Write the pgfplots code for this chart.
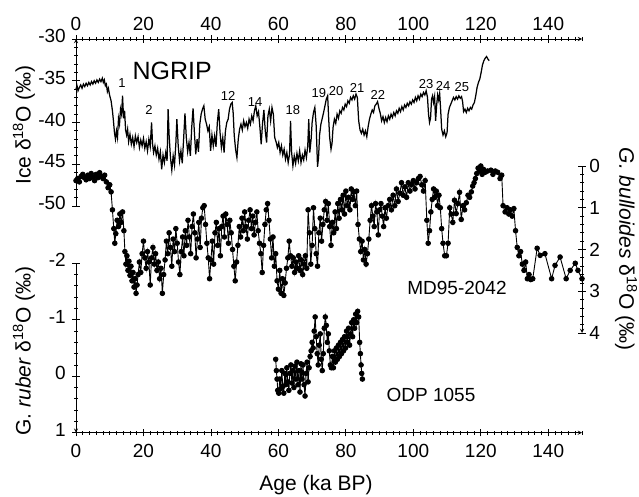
\documentclass[border=0pt]{standalone}
\usepackage{fontspec}
\setmainfont{Liberation Sans}
\usepackage{pgfplots}
\pgfplotsset{compat=1.18}

\pgfplotsset{
  common/.style={
    scale only axis, width=506pt, xmin=0, xmax=150,
    anchor=south west,
    tick align=inside,
    major tick length=7.5pt, minor tick length=4pt,
    every tick/.style={black, line width=0.8pt},
    axis line style={black, line width=0.9pt, -},
    every outer x axis line/.append style={-},
    every outer y axis line/.append style={-},
    /pgf/number format/assume math mode=true,
    tick label style={font=\fontsize{19}{20}\selectfont},
    clip=false,
  }
}

\begin{document}
\begin{tikzpicture}
\useasboundingbox (0,0) rectangle (639pt,496pt);

% ---------------- NGRIP ----------------
\begin{axis}[common,
  at={(76pt,290pt)}, height=167pt,
  ymin=-50, ymax=-30,
  axis x line=top, axis y line=left,
  xtick={0,20,...,140}, minor xtick={2,4,...,150},
  ytick={-50,-45,...,-30}, minor ytick={-49,-48,...,-31},
  xticklabel style={yshift=1.5pt},
  yticklabel style={yshift=3pt, xshift=-3pt},
]
\addplot[black, line width=1.25pt] table {
0 -36.0
0.3 -35.6
0.6 -36.2
1.0 -35.8
1.4 -35.5
1.8 -35.9
2.2 -35.4
2.6 -35.7
3.0 -35.3
3.4 -35.6
3.8 -35.2
4.2 -35.5
4.6 -35.1
5.0 -35.4
5.4 -35.0
5.8 -35.3
6.2 -34.9
6.6 -35.2
7.0 -34.8
7.4 -35.1
7.8 -34.7
8.1 -35.2
8.4 -34.9
8.7 -35.6
9.0 -35.4
9.3 -36.3
9.6 -35.9
10.0 -36.8
10.4 -37.4
10.8 -38.6
11.1 -39.8
11.4 -41.2
11.7 -42.0
12.0 -41.0
12.3 -41.8
12.6 -39.5
12.9 -40.2
13.2 -38.4
13.5 -39.0
13.8 -36.8
14.1 -39.5
14.4 -38.6
14.7 -40.9
15.0 -41.5
15.3 -40.8
15.6 -42.3
16.0 -41.4
16.4 -42.6
16.8 -41.8
17.2 -42.9
17.6 -41.6
18.0 -42.4
18.4 -41.7
18.8 -43.0
19.2 -42.1
19.6 -42.8
20.0 -41.9
20.4 -43.1
20.8 -42.3
21.2 -43.4
21.6 -42.0
22.0 -42.9
22.4 -40.0
22.7 -42.6
23.0 -43.6
23.4 -42.8
23.8 -43.9
24.2 -43.1
24.6 -44.4
25.0 -43.5
25.4 -45.6
25.8 -43.9
26.2 -44.8
26.6 -43.6
27.0 -44.6
27.3 -38.4
27.6 -41.5
28.0 -44.2
28.4 -45.7
28.8 -44.0
29.2 -45.1
29.6 -42.5
29.9 -39.6
30.3 -42.8
30.7 -44.6
31.1 -43.4
31.5 -44.9
31.9 -42.0
32.3 -38.9
32.7 -41.8
33.1 -43.5
33.5 -42.4
33.9 -44.0
34.3 -40.6
34.7 -38.3
35.1 -41.2
35.5 -43.8
35.9 -42.0
36.3 -43.5
36.7 -40.2
37.1 -39.0
37.5 -38.4
37.9 -38.0
38.3 -39.6
38.7 -40.2
39.1 -41.0
39.5 -40.5
39.9 -43.4
40.3 -41.5
40.7 -42.8
41.1 -41.6
41.5 -42.9
41.9 -40.0
42.3 -38.4
42.7 -41.2
43.1 -43.0
43.5 -41.8
43.9 -43.6
44.3 -41.0
44.7 -40.0
45.1 -39.6
45.5 -38.4
45.9 -37.8
46.3 -37.6
46.6 -38.9
46.9 -41.5
47.3 -43.2
47.7 -44.2
48.1 -42.0
48.5 -40.8
48.9 -40.2
49.3 -40.9
49.7 -39.8
50.1 -40.5
50.5 -40.0
50.9 -40.7
51.3 -39.6
51.7 -40.2
52.1 -39.2
52.5 -39.8
52.9 -38.6
53.3 -38.0
53.7 -39.2
54.1 -38.7
54.5 -40.5
54.9 -42.6
55.3 -40.1
55.7 -38.5
56.1 -41.0
56.5 -42.4
56.9 -39.2
57.3 -38.4
57.7 -39.8
58.1 -38.2
58.5 -39.0
58.9 -41.8
59.3 -42.3
59.7 -43.0
60.1 -42.4
60.5 -43.6
60.9 -42.8
61.3 -43.9
61.7 -43.2
62.1 -44.4
62.5 -43.6
62.9 -44.8
63.3 -43.8
63.6 -39.8
63.9 -43.5
64.3 -45.2
64.7 -44.0
65.1 -44.9
65.5 -43.7
65.9 -44.6
66.3 -43.4
66.7 -44.8
67.1 -43.9
67.5 -44.5
67.9 -43.3
68.3 -44.2
68.7 -42.8
69.0 -39.6
69.3 -43.6
69.7 -42.0
70.0 -40.0
70.4 -38.8
70.8 -38.2
71.2 -40.4
71.6 -45.3
71.9 -44.2
72.2 -41.5
72.6 -40.2
73.0 -39.5
73.4 -38.8
73.8 -38.0
74.2 -37.2
74.6 -36.8
74.9 -39.5
75.2 -41.8
75.6 -43.2
75.9 -42.5
76.2 -40.6
76.6 -39.6
77.0 -40.1
77.4 -39.0
77.8 -39.5
78.2 -38.6
78.6 -38.9
79.0 -38.2
79.4 -38.5
79.8 -37.8
80.2 -38.1
80.6 -37.4
81.0 -37.7
81.4 -37.0
81.8 -37.3
82.2 -36.8
82.6 -37.2
83.0 -36.6
83.4 -37.0
83.8 -39.8
84.2 -40.9
84.6 -41.3
85.0 -40.8
85.4 -41.5
85.8 -41.0
86.2 -41.7
86.6 -40.5
87.0 -39.6
87.4 -39.0
87.8 -38.5
88.2 -38.8
88.6 -38.0
89.0 -37.8
89.4 -37.5
89.8 -38.3
90.2 -38.9
90.6 -39.8
91.0 -39.3
91.4 -40.0
91.8 -39.4
92.2 -39.9
92.6 -39.2
93.0 -39.6
93.4 -39.0
93.8 -39.4
94.2 -38.8
94.6 -39.2
95.0 -38.6
95.4 -38.9
95.8 -38.3
96.2 -38.7
96.6 -38.1
97.0 -38.5
97.4 -37.9
97.8 -38.2
98.2 -37.7
98.6 -38.0
99.0 -37.5
99.4 -37.8
99.8 -37.3
100.2 -37.6
100.6 -37.0
101.0 -37.4
101.4 -36.8
101.8 -37.2
102.2 -36.6
102.6 -36.9
103.0 -36.4
103.4 -36.7
103.8 -36.2
104.2 -37.0
104.5 -39.0
104.8 -40.0
105.1 -39.5
105.4 -37.2
105.7 -36.8
106.0 -37.6
106.3 -36.9
106.6 -39.8
106.9 -38.0
107.2 -36.7
107.5 -37.3
107.8 -36.5
108.1 -38.5
108.4 -40.8
108.8 -41.5
109.2 -41.0
109.6 -41.7
110.0 -41.2
110.3 -39.0
110.7 -38.2
111.1 -37.8
111.5 -37.4
111.9 -37.0
112.3 -37.3
112.7 -36.9
113.1 -37.2
113.5 -36.8
113.9 -37.1
114.3 -36.9
114.6 -37.5
114.9 -38.7
115.3 -38.4
115.7 -38.8
116.1 -38.3
116.5 -38.6
116.9 -38.2
117.3 -38.4
117.7 -37.9
118.1 -37.6
118.5 -36.8
118.9 -35.8
119.3 -35.2
119.7 -34.8
120.1 -34.0
120.5 -33.1
120.9 -32.6
121.3 -32.3
121.7 -32.1
122.1 -32.4
122.5 -32.6
};
\begin{scope}[font=\fontsize{13}{13}\selectfont]
\node at (axis cs:13.6,-35.3) {1};
\node at (axis cs:21.6,-38.5) {2};
\node at (axis cs:45.1,-36.8) {12};
\node at (axis cs:53.1,-37.5) {14};
\node at (axis cs:64.3,-38.5) {18};
\node at (axis cs:72.0,-36.5) {19};
\node at (axis cs:77.1,-36.2) {20};
\node at (axis cs:83.3,-35.9) {21};
\node at (axis cs:89.5,-36.7) {22};
\node at (axis cs:103.8,-35.4) {23};
\node at (axis cs:108.8,-35.6) {24};
\node at (axis cs:114.4,-35.7) {25};
\end{scope}
\node[font=\fontsize{25}{25}\selectfont] at (axis cs:28.5,-33.8) {NGRIP};
\end{axis}

% ---------------- MD95-2042 ----------------
\begin{axis}[common,
  at={(76pt,163pt)}, height=167pt,
  ymin=0, ymax=4, y dir=reverse,
  axis x line=none, axis y line=right,
  ytick={0,1,2,3,4}, minor ytick={0.2,0.4,...,3.9},
]
\addplot[black, line width=0.9pt, mark=*, mark size=2.3pt] table {
0.0 0.35
0.5 0.30
1.0 0.38
1.5 0.25
2.0 0.20
2.5 0.28
3.0 0.33
3.5 0.22
4.0 0.30
4.5 0.18
5.0 0.26
5.5 0.35
6.0 0.20
6.5 0.28
7.0 0.16
7.5 0.25
8.0 0.30
8.5 0.22
9.0 0.38
9.5 0.52
10.0 0.45
10.4 0.62
10.8 1.05
11.2 1.50
11.5 1.85
11.8 1.62
12.2 1.30
12.6 1.45
13.0 1.15
13.4 1.35
13.8 1.10
14.2 1.55
14.5 2.05
14.8 2.35
15.1 2.15
15.4 2.50
15.7 2.28
16.0 2.62
16.3 2.40
16.6 2.75
16.9 2.55
17.2 2.90
17.5 2.70
17.8 3.05
18.1 2.85
18.4 2.60
18.8 2.30
19.2 2.55
19.6 2.10
20.0 1.80
20.4 2.20
20.8 2.45
21.2 2.05
21.6 2.30
22.0 2.85
22.4 2.20
22.8 1.95
23.2 2.35
23.6 2.10
24.0 2.50
24.4 2.30
24.8 2.70
25.2 2.45
25.6 3.05
26.0 2.60
26.4 2.25
26.8 1.80
27.2 2.10
27.6 1.60
28.0 1.95
28.4 2.40
28.8 1.75
29.2 2.05
29.6 1.50
30.0 1.85
30.4 2.30
30.8 2.60
31.2 2.05
31.6 1.70
32.0 2.15
32.4 1.55
32.8 1.90
33.2 1.30
33.6 1.70
34.0 2.10
34.4 1.45
34.8 1.15
35.2 1.60
35.6 2.20
36.0 1.75
36.4 1.35
36.8 1.95
37.2 1.25
37.6 1.00
38.0 0.95
38.4 1.40
38.8 1.85
39.2 2.20
39.6 2.70
40.0 2.25
40.4 1.80
40.8 2.35
41.2 1.60
41.6 1.35
42.0 1.90
42.4 1.50
42.8 2.15
43.2 1.45
43.6 1.20
44.0 1.70
44.4 1.15
44.8 1.40
45.2 1.85
45.6 1.30
46.0 1.60
46.4 2.00
46.8 2.40
47.2 2.75
47.6 2.30
48.0 1.90
48.4 1.45
48.8 1.70
49.2 1.25
49.6 1.55
50.0 1.10
50.4 1.45
50.8 1.75
51.2 1.30
51.6 1.05
52.0 1.50
52.4 1.20
52.8 1.65
53.2 1.35
53.6 1.10
54.0 1.55
54.4 1.85
54.8 2.10
55.2 2.55
55.6 1.90
56.0 1.40
56.4 1.05
56.8 0.90
57.2 1.30
57.6 1.75
58.0 2.20
58.4 1.70
58.8 2.40
59.2 2.10
59.6 2.75
60.0 2.95
60.4 2.50
60.8 3.05
61.2 2.70
61.6 3.10
62.0 2.80
62.4 2.45
62.8 2.20
63.2 1.80
63.6 2.15
64.0 2.40
64.4 2.20
64.8 2.55
65.2 2.30
65.6 2.45
66.0 2.15
66.4 2.50
66.8 2.25
67.2 2.60
67.6 2.35
68.0 2.15
68.4 2.45
68.8 1.05
69.2 1.60
69.6 2.35
70.0 1.90
70.4 1.00
70.8 1.50
71.2 2.10
71.6 2.40
72.0 1.60
72.4 1.25
72.8 1.80
73.2 1.40
73.6 1.05
74.0 0.85
74.4 1.30
74.8 0.90
75.2 1.45
75.6 1.90
76.0 1.35
76.4 1.60
76.8 1.10
77.2 1.50
77.6 0.90
78.0 1.25
78.4 0.80
78.8 1.05
79.2 0.70
79.6 1.15
80.0 0.60
80.4 0.95
80.8 0.75
81.2 1.05
81.6 0.55
82.0 0.80
82.4 0.62
82.8 0.95
83.2 0.60
83.6 1.40
84.0 1.75
84.4 2.05
84.8 1.80
85.2 2.25
85.6 2.00
86.0 2.35
86.4 2.10
86.8 1.75
87.2 1.30
87.6 0.95
88.0 1.20
88.4 1.45
88.8 0.90
89.2 1.10
89.6 1.65
90.0 1.05
90.4 0.90
90.8 1.20
91.2 1.45
91.6 1.00
92.0 1.25
92.5 0.95
93.0 0.80
93.5 1.05
94.0 0.70
94.5 0.95
95.0 0.55
95.5 0.85
96.0 0.65
96.5 0.40
97.0 0.70
97.5 0.50
98.0 0.75
98.5 0.40
99.0 0.60
99.5 0.45
100.0 0.35
100.5 0.55
101.0 0.40
101.5 0.30
102.0 0.25
102.5 0.45
103.0 0.60
103.5 0.35
104.0 1.30
104.4 1.85
104.8 1.55
105.2 1.10
105.6 0.80
106.0 0.55
106.4 0.75
106.8 0.60
107.2 0.95
107.6 0.70
108.0 1.00
108.4 1.50
108.8 1.85
109.3 2.15
109.8 2.15
110.3 1.85
110.8 1.00
111.2 1.15
111.7 1.35
112.2 0.82
112.7 1.14
113.2 0.90
113.7 0.63
114.2 1.28
114.7 0.95
115.2 1.05
115.7 0.88
116.2 0.70
116.7 0.75
117.2 0.62
117.6 0.48
118.0 0.40
118.4 0.30
118.8 0.18
119.2 0.05
119.6 0.12
120.0 0.00
120.4 0.20
120.8 0.08
121.3 0.15
122.0 0.12
123.0 0.10
123.6 0.20
124.3 0.12
125.0 0.15
125.7 0.30
126.2 0.22
126.6 0.95
127.2 1.10
127.8 1.00
128.3 1.15
128.8 1.05
129.3 1.20
129.8 1.02
130.3 1.55
130.8 1.95
131.3 2.15
131.8 2.05
132.3 2.35
132.8 2.50
133.3 2.30
133.8 2.70
134.3 2.60
134.8 2.72
135.4 2.70
136.7 1.97
137.6 2.14
139.0 2.10
141.0 2.70
142.0 2.38
143.5 2.18
145.3 2.70
146.5 2.50
148.0 2.33
148.8 2.50
150.0 2.70
};
\end{axis}

% ---------------- ODP 1055 ----------------
\begin{axis}[common,
  at={(76pt,63.3pt)}, height=169.4pt,
  ymin=-2, ymax=1, y dir=reverse,
  axis x line=bottom, axis y line=left,
  xtick={0,20,...,140}, minor xtick={2,4,...,150},
  ytick={-2,-1,0,1}, minor ytick={-1.8,-1.6,...,0.9},
  xticklabel style={yshift=-4pt},
  yticklabel style={yshift=3pt, xshift=-3pt},
]
\addplot[black, line width=0.9pt, mark=*, mark size=2.3pt] table {
59.2 -0.30
59.4 -0.10
59.6 0.05
59.8 0.25
60.1 0.30
60.4 0.05
60.7 0.22
61.0 -0.10
61.3 0.18
61.6 0.30
61.9 -0.05
62.2 0.15
62.5 -0.15
62.8 0.10
63.1 0.25
63.4 -0.05
63.7 -0.20
64.0 0.12
64.3 -0.10
64.6 0.20
64.9 -0.18
65.2 0.05
65.5 -0.25
65.8 0.15
66.1 -0.10
66.4 0.28
66.7 -0.22
67.0 0.05
67.3 -0.20
67.6 0.15
67.9 0.35
68.2 -0.05
68.5 -0.25
68.8 0.10
69.1 -0.15
69.4 -0.35
69.7 -0.45
70.0 -0.60
70.3 -0.50
70.6 -0.80
70.9 -1.05
71.2 -0.70
71.5 -0.40
71.8 -0.20
72.1 -0.55
72.4 -0.75
72.7 -0.30
73.0 -0.10
73.3 -0.40
73.6 -0.85
73.9 -1.05
74.2 -0.90
74.5 -0.60
74.8 -0.75
75.1 -0.45
75.4 -0.20
75.7 -0.15
76.0 -0.35
76.3 -0.15
76.6 -0.45
76.9 -0.25
77.2 -0.50
77.5 -0.30
77.8 -0.55
78.1 -0.35
78.4 -0.60
78.7 -0.40
79.0 -0.65
79.3 -0.45
79.6 -0.70
79.9 -0.50
80.2 -0.80
80.5 -0.60
80.8 -0.85
81.1 -0.55
81.4 -0.75
81.7 -0.95
82.0 -0.70
82.3 -1.00
82.6 -0.85
82.9 -1.10
83.2 -0.95
83.5 -1.15
83.8 -1.05
84.1 -0.60
84.3 -0.40
84.5 -0.20
84.7 -0.05
84.9 0.05
};
\end{axis}

% ---------------- labels ----------------
\node[font=\fontsize{21}{21}\selectfont, rotate=90] at (24pt,371pt) {Ice δ\textsuperscript{18}O (‰)};
\node[font=\fontsize{21}{21}\selectfont, rotate=90] at (24pt,145pt) {G. \textit{ruber} δ\textsuperscript{18}O (‰)};
\node[font=\fontsize{21}{21}\selectfont, rotate=-90] at (626pt,247pt) {\textit{G. bulloides} δ\textsuperscript{18}O (‰)};
\node[font=\fontsize{21}{21}\selectfont] at (316pt,11pt) {Age (ka BP)};
\node[font=\fontsize{19}{19}\selectfont] at (457pt,208pt) {MD95-2042};
\node[font=\fontsize{19}{19}\selectfont] at (431pt,101pt) {ODP 1055};
\end{tikzpicture}
\end{document}
